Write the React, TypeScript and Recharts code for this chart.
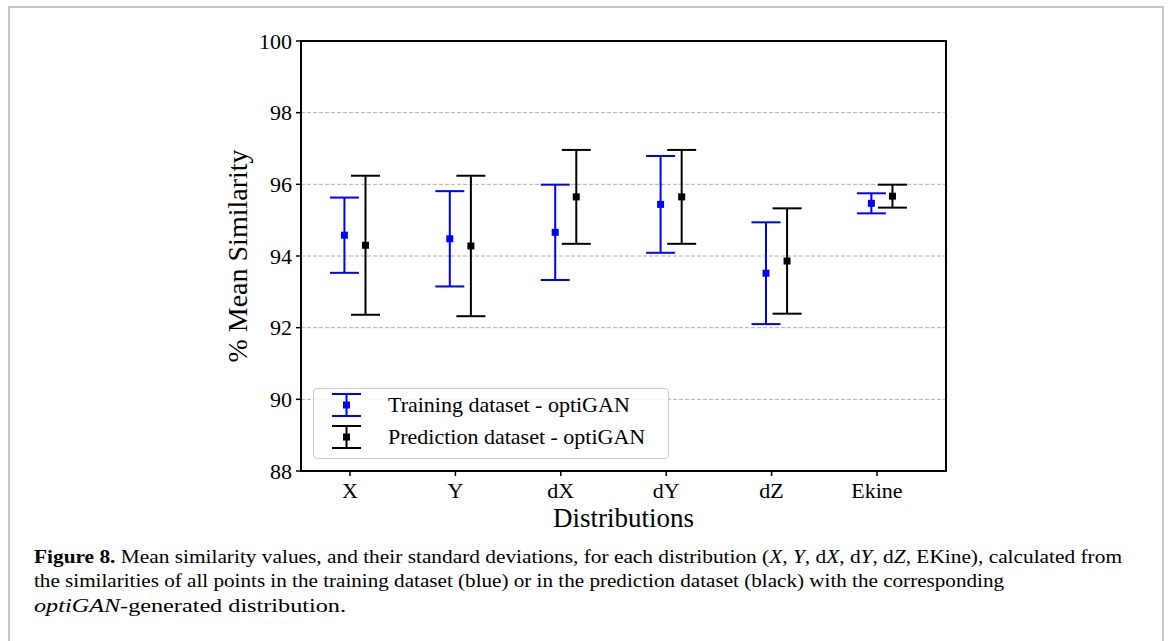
import React from "react";
import {
  ScatterChart,
  Scatter,
  XAxis,
  YAxis,
  CartesianGrid,
  ErrorBar,
  ReferenceArea,
  Legend,
  Label,
} from "recharts";

// values
const categories = ["X", "Y", "dX", "dY", "dZ", "Ekine"];
const trainingMean = [94.58, 94.48, 94.66, 95.44, 93.52, 95.47];
const trainingStd = [1.05, 1.33, 1.33, 1.35, 1.42, 0.28];
const predictionMean = [94.3, 94.28, 95.65, 95.65, 93.86, 95.67];
const predictionStd = [1.94, 1.96, 1.31, 1.31, 1.47, 0.32];
const yTicks = [88, 90, 92, 94, 96, 98, 100];
const xTicks = [0, 1, 2, 3, 4, 5];

const serif = "Liberation Serif";
const BLUE = "#0000ff";
const BLACK = "#000000";

const series = [
  { name: "Training dataset - optiGAN", color: BLUE, offset: -0.053, mean: trainingMean, std: trainingStd },
  { name: "Prediction dataset - optiGAN", color: BLACK, offset: 0.147, mean: predictionMean, std: predictionStd },
];

const toPoints = (s: (typeof series)[number]) =>
  categories.map((c, i) => ({ x: i + s.offset, y: s.mean[i], err: s.std[i], cat: c }));

const SquareDot = (props: any) => {
  const { cx, cy, fill } = props;
  if (cx == null || cy == null) return null;
  return <rect x={cx - 3.5} y={cy - 3.5} width={7} height={7} fill={fill} />;
};

function LegendBox() {
  return (
    <div
      style={{
        width: 356,
        height: 71,
        border: "1px solid #cccccc",
        borderRadius: 4,
        background: "rgba(255,255,255,0.8)",
        boxSizing: "border-box",
        position: "relative",
      }}
    >
      {series.map((s, i) => (
        <div
          key={s.name}
          style={{ position: "absolute", left: 0, top: 1 + i * 32, height: 30, display: "flex", alignItems: "center" }}
        >
          <svg width={60} height={30} style={{ display: "block" }}>
            <line x1={18} x2={47} y1={4} y2={4} stroke={s.color} strokeWidth={2} />
            <line x1={18} x2={47} y1={26} y2={26} stroke={s.color} strokeWidth={2} />
            <line x1={32.5} x2={32.5} y1={4} y2={26} stroke={s.color} strokeWidth={2} />
            <rect x={29} y={11.5} width={7} height={7} fill={s.color} />
          </svg>
          <span style={{ fontFamily: serif, fontSize: 22, marginLeft: 14, color: "#000", whiteSpace: "nowrap" }}>
            {s.name}
          </span>
        </div>
      ))}
    </div>
  );
}

const captionStyle = { fontFamily: serif, fontSize: 19, fill: "#000" };

export default function App() {
  return (
    <div style={{ position: "absolute", left: 0, top: 0, width: 1170, height: 641, overflow: "hidden", background: "#fff" }}>
      <div
        style={{
          position: "absolute",
          left: 8,
          top: 6,
          width: 1156,
          height: 700,
          border: "2px solid #c8c8c8",
          boxSizing: "border-box",
        }}
      />
      <div style={{ position: "absolute", left: 0, top: 0 }}>
        <ScatterChart width={1170} height={641} margin={{ top: 41, right: 224, bottom: 114, left: 173 }}>
          <CartesianGrid vertical={false} stroke="#b0b0b0" strokeDasharray="4 2" strokeWidth={1} />
          <XAxis
            type="number"
            dataKey="x"
            domain={[-0.465, 5.655]}
            ticks={xTicks}
            allowDataOverflow
            tickFormatter={(v: number) => categories[Math.round(v)] ?? ""}
            axisLine={false}
            tickLine={{ stroke: "#000", strokeWidth: 1.5 }}
            tickSize={5}
            tickMargin={6}
            height={56}
            tick={{ fill: "#000", fontFamily: serif, fontSize: 22 }}
          >
            <Label
              value="Distributions"
              position="insideBottom"
              offset={0}
              style={{ fill: "#000", fontFamily: serif, fontSize: 27 }}
            />
          </XAxis>
          <YAxis
            type="number"
            dataKey="y"
            domain={[88, 100]}
            ticks={yTicks}
            allowDataOverflow
            axisLine={false}
            tickLine={{ stroke: "#000", strokeWidth: 1.5 }}
            tickSize={5}
            tickMargin={4}
            width={128}
            tick={{ fill: "#000", fontFamily: serif, fontSize: 22 }}
          >
            <Label
              value="% Mean Similarity"
              angle={-90}
              position="center"
              style={{ fill: "#000", fontFamily: serif, fontSize: 28, textAnchor: "middle" }}
            />
          </YAxis>
          <ReferenceArea
            x1={-0.465}
            x2={5.655}
            y1={88}
            y2={100}
            fill="none"
            fillOpacity={0}
            stroke="#000"
            strokeWidth={2}
            ifOverflow="visible"
          />
          {series.map((s) => (
            <Scatter
              key={s.name}
              name={s.name}
              data={toPoints(s)}
              fill={s.color}
              shape={<SquareDot />}
              isAnimationActive={false}
            >
              <ErrorBar
                dataKey="err"
                direction="y"
                width={14.5}
                stroke={s.color}
                strokeWidth={2}
                isAnimationActive={false}
              />
            </Scatter>
          ))}
          <Legend
            verticalAlign="middle"
            layout="horizontal"
            content={() => <LegendBox />}
            wrapperStyle={{ left: 313, top: 388, width: 356, height: 71 }}
          />
        </ScatterChart>
      </div>
      <svg width={1170} height={100} style={{ position: "absolute", left: 0, top: 540 }}>
        <text x={34} y={23} textLength={1088} lengthAdjust="spacingAndGlyphs" style={captionStyle}>
          <tspan fontWeight="bold">Figure 8.</tspan> Mean similarity values, and their standard deviations, for each
          distribution (<tspan fontStyle="italic">X</tspan>, <tspan fontStyle="italic">Y</tspan>, d
          <tspan fontStyle="italic">X</tspan>, d<tspan fontStyle="italic">Y</tspan>, d
          <tspan fontStyle="italic">Z</tspan>, EKine), calculated from
        </text>
        <text x={34} y={47} textLength={970} lengthAdjust="spacingAndGlyphs" style={captionStyle}>
          the similarities of all points in the training dataset (blue) or in the prediction dataset (black) with the
          corresponding
        </text>
        <text x={34} y={72} textLength={312} lengthAdjust="spacingAndGlyphs" style={captionStyle}>
          <tspan fontStyle="italic">optiGAN</tspan>-generated distribution.
        </text>
      </svg>
    </div>
  );
}
